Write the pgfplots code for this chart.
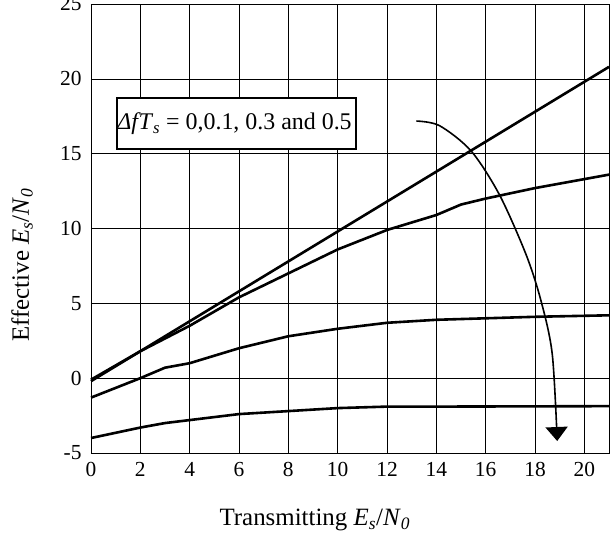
\documentclass[border=0pt]{standalone}
\usepackage{fontspec}
\setmainfont{Liberation Serif}
\usepackage{pgfplots}
\pgfplotsset{compat=1.18}
\usetikzlibrary{arrows.meta}
\newcommand{\EsNo}{\textit{E}\textsubscript{\textit{s}}/\textit{N}\textsubscript{\textit{0}}}
\begin{document}
\begin{tikzpicture}
\begin{axis}[
  scale only axis, width=518bp, height=449bp,
  xmin=0, xmax=21, ymin=-5, ymax=25,
  xtick={0,2,...,20}, ytick={-5,0,...,25},
  grid=major, major grid style={black, line width=0.6pt},
  axis line style={black, line width=0.8pt},
  tick style={draw=none},
  /pgf/number format/assume math mode=true,
  ticklabel style={font=\fontsize{21.5}{25}\selectfont},
  yticklabel style={xshift=-6bp},
  xticklabel style={yshift=-6bp},
  label style={font=\fontsize{25}{30}\selectfont},
  xlabel={Transmitting \EsNo},
  ylabel={Effective \EsNo},
  xlabel style={at={(axis description cs:0.432,-0.149)}, anchor=center},
  ylabel style={at={(axis description cs:-0.133,0.419)}, anchor=center},
  clip=false,
]
\coordinate (SW) at (rel axis cs:0,0);
\coordinate (NE) at (rel axis cs:1,1);
\addplot[black, line width=2.6bp] coordinates {(0,-0.2) (21,20.8)};
\addplot[black, line width=2.6bp] coordinates {(0,-0.1) (2,1.8) (4,3.5) (6,5.4) (8,7.0) (10,8.6) (12,9.9) (14,10.9) (15,11.6) (16,12.0) (18,12.7) (20,13.3) (21,13.6)};
\addplot[black, line width=2.6bp] coordinates {(0,-1.3) (2,0) (3,0.7) (4,1.0) (6,2.0) (8,2.8) (10,3.3) (12,3.7) (14,3.9) (16,4.0) (18,4.1) (21,4.2)};
\addplot[black, line width=2.6bp] coordinates {(0,-4.0) (2,-3.3) (3,-3.0) (4,-2.8) (6,-2.4) (8,-2.2) (10,-2.0) (12,-1.9) (14,-1.9) (21,-1.87)};
\addplot[black, line width=1.6bp, smooth, -{Triangle[width=22bp,length=14bp]}] coordinates {(13.19,17.18) (14.13,16.87) (15.41,15.18) (16.56,12.25) (17.64,8.25) (18.25,5.13) (18.7,1.6) (18.9,-4.2)};
\node[draw=black, line width=1.6bp, fill=white, minimum width=239bp, minimum height=51bp, inner xsep=0pt, font=\fontsize{24}{28}\selectfont] at (axis cs:5.9,17.0) {\kern-4pt\textit{Δf\kern0.5pt T}\textsubscript{\textit{s}} = 0,0.1, 0.3 and 0.5};
\end{axis}
\pgfresetboundingbox
\path[use as bounding box] ([shift={(-91bp,-90bp)}]SW) rectangle ([shift={(2bp,4bp)}]NE);
\end{tikzpicture}
\end{document}
